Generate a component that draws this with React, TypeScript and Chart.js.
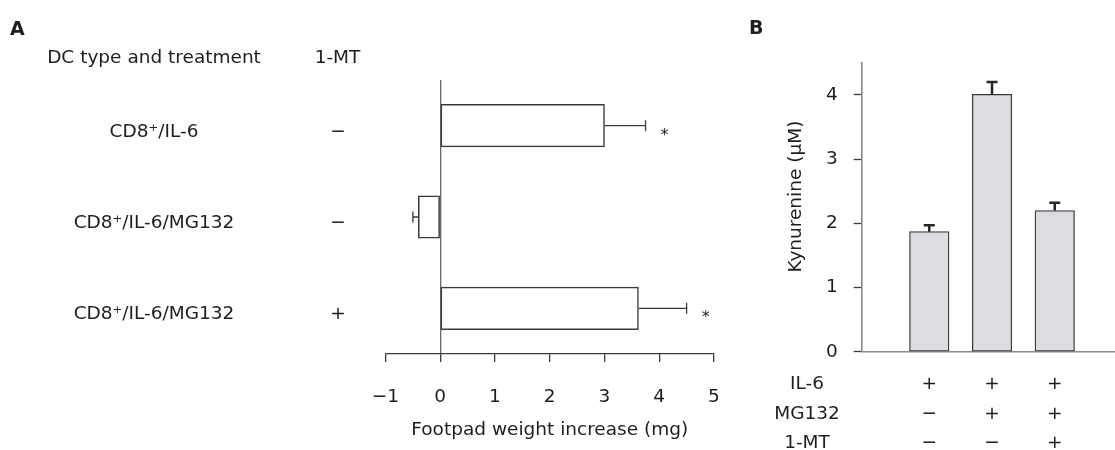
import React, { useEffect, useRef } from "react";
import { Chart, registerables } from "chart.js";

Chart.register(...registerables);

const FONT = "DejaVu Sans";
const TEXT = "#1e1e1e";

// ---------- Panel A data ----------
const dcTreatments = ["CD8⁺/IL-6", "CD8⁺/IL-6/MG132", "CD8⁺/IL-6/MG132"];
const oneMtA = ["−", "−", "+"];
const footpadIncrease = [3.0, -0.4, 3.62];
const footpadError = [0.75, 0.1, 0.88];
const footpadSignif = ["*", "", "*"];
const footpadMin = -1;
const footpadMax = 5;
const footpadStep = 1;

// ---------- Panel B data ----------
const kynPositions = [1, 2, 3];
const kynurenine = [1.87, 4.01, 2.2];
const kynError = [0.1, 0.19, 0.12];
const treatmentRowNames = ["IL-6", "MG132", "1-MT"];
const il6Row = ["+", "+", "+"];
const mg132Row = ["−", "+", "+"];
const mtRowB = ["−", "−", "+"];
const kynMin = 0;
const kynMax = 4.5;
const kynStep = 1;
const kynXMin = -0.077;
const kynXMax = 3.96;

const panelAPlugin = {
  id: "panelAExtras",
  afterDatasetsDraw(chart: any) {
    const { ctx } = chart;
    const xs = chart.scales.x;
    const ys = chart.scales.y;
    ctx.save();
    ctx.strokeStyle = "#3a3a3a";
    ctx.lineWidth = 1.3;
    footpadIncrease.forEach((v, i) => {
      const y = ys.getPixelForValue(i);
      const x0 = xs.getPixelForValue(v);
      const end = v + Math.sign(v) * footpadError[i];
      const x1 = xs.getPixelForValue(end);
      ctx.beginPath();
      ctx.moveTo(x0, y);
      ctx.lineTo(x1, y);
      ctx.moveTo(x1, y - 5.5);
      ctx.lineTo(x1, y + 5.5);
      ctx.stroke();
      if (footpadSignif[i]) {
        ctx.font = `16px "${FONT}"`;
        ctx.textAlign = "center";
        ctx.textBaseline = "alphabetic";
        ctx.fillStyle = TEXT;
        ctx.fillText(footpadSignif[i], x1 + 19, y + 14);
      }
    });
    ctx.font = `18.5px "${FONT}"`;
    ctx.fillStyle = TEXT;
    ctx.textAlign = "center";
    ctx.textBaseline = "alphabetic";
    dcTreatments.forEach((t, i) => {
      const y = ys.getPixelForValue(i) + 11;
      ctx.fillText(t, 154, y);
      ctx.fillText(oneMtA[i], 338, y);
    });
    ctx.fillText("DC type and treatment", 154, 63.3);
    ctx.fillText("1-MT", 337.5, 63.3);
    ctx.font = `bold 19px "${FONT}"`;
    ctx.textAlign = "left";
    ctx.fillText("A", 10, 35);
    ctx.restore();
  },
};

const panelBPlugin = {
  id: "panelBExtras",
  afterDatasetsDraw(chart: any) {
    const { ctx } = chart;
    const xs = chart.scales.x;
    const ys = chart.scales.y;
    ctx.save();
    ctx.strokeStyle = "#262626";
    ctx.lineWidth = 2.5;
    kynurenine.forEach((v, i) => {
      const x = xs.getPixelForValue(kynPositions[i]);
      const y0 = ys.getPixelForValue(v);
      const y1 = ys.getPixelForValue(v + kynError[i]);
      ctx.beginPath();
      ctx.moveTo(x, y0);
      ctx.lineTo(x, y1);
      ctx.moveTo(x - 5.5, y1);
      ctx.lineTo(x + 5.5, y1);
      ctx.stroke();
    });
    ctx.fillStyle = TEXT;
    ctx.font = `18.5px "${FONT}"`;
    ctx.textAlign = "center";
    ctx.textBaseline = "alphabetic";
    const rows = [il6Row, mg132Row, mtRowB];
    const baselines = [389, 419, 448];
    rows.forEach((row, r) => {
      ctx.fillText(treatmentRowNames[r], 62, baselines[r]);
      row.forEach((s, i) => {
        ctx.fillText(s, xs.getPixelForValue(kynPositions[i]), baselines[r]);
      });
    });
    // y-axis title
    ctx.save();
    ctx.translate(55.5, 196.5);
    ctx.rotate(-Math.PI / 2);
    ctx.fillText("Kynurenine (μM)", 0, 0);
    ctx.restore();
    ctx.font = `bold 19px "${FONT}"`;
    ctx.textAlign = "left";
    ctx.fillText("B", 4, 34);
    ctx.restore();
  },
};

export default function App() {
  const refA = useRef<HTMLCanvasElement>(null);
  const refB = useRef<HTMLCanvasElement>(null);

  useEffect(() => {
    const tickFont = { family: FONT, size: 18.5 };
    const chartA = new Chart(refA.current as HTMLCanvasElement, {
      type: "bar",
      data: {
        labels: dcTreatments,
        datasets: [
          {
            data: footpadIncrease,
            backgroundColor: "#ffffff",
            borderColor: "#3a3a3a",
            borderWidth: 1.5,
            borderSkipped: false,
            barThickness: 42.5,
          },
        ],
      },
      options: {
        indexAxis: "y",
        responsive: false,
        animation: false,
        layout: { padding: { left: 385.5, right: 56, top: 80, bottom: 0 } },
        plugins: { legend: { display: false }, tooltip: { enabled: false } },
        scales: {
          y: { display: false },
          x: {
            type: "linear",
            min: footpadMin,
            max: footpadMax,
            ticks: {
              stepSize: footpadStep,
              font: tickFont,
              color: TEXT,
              padding: 24,
              maxRotation: 0,
              callback: (v: any) => String(v).replace("-", "−"),
            },
            grid: {
              color: (c: any) => (c.tick && c.tick.value === 0 ? "#6a6a6a" : "rgba(0,0,0,0)"),
              lineWidth: 1.3,
              tickColor: "#3a3a3a",
              tickLength: 8,
              tickWidth: 1.3,
            },
            border: { display: true, color: "#3a3a3a", width: 1.3 },
            title: {
              display: true,
              text: "Footpad weight increase (mg)",
              font: tickFont,
              color: TEXT,
              padding: { top: 4, bottom: 9 },
            },
            afterFit: (s: any) => {
              s.height = 96;
            },
          },
        },
      } as any,
      plugins: [panelAPlugin],
    });

    const chartB = new Chart(refB.current as HTMLCanvasElement, {
      type: "bar",
      data: {
        datasets: [
          {
            data: kynPositions.map((x, i) => ({ x, y: kynurenine[i] })),
            backgroundColor: "#dcdde0",
            borderColor: "#3a3a3a",
            borderWidth: 1.3,
            borderSkipped: false,
            barThickness: 39.5,
          },
        ],
      },
      options: {
        responsive: false,
        animation: false,
        layout: { padding: { left: 0, right: 0, top: 62.8, bottom: 0 } },
        plugins: { legend: { display: false }, tooltip: { enabled: false } },
        scales: {
          x: {
            type: "linear",
            min: kynXMin,
            max: kynXMax,
            offset: false,
            ticks: { display: false, stepSize: 1, includeBounds: false },
            grid: { color: "rgba(0,0,0,0)", drawTicks: false, offset: false },
            border: { display: true, color: "#8a8a8a", width: 1.6 },
            afterFit: (s: any) => {
              s.height = 98.3;
            },
          },
          y: {
            type: "linear",
            min: kynMin,
            max: kynMax,
            ticks: {
              stepSize: kynStep,
              includeBounds: false,
              font: tickFont,
              color: TEXT,
              padding: 16,
            },
            grid: {
              drawOnChartArea: false,
              tickLength: 8,
              tickColor: "#3a3a3a",
              tickWidth: 1.3,
            },
            border: { display: true, color: "#8a8a8a", width: 1.6 },
            afterFit: (s: any) => {
              s.width = 116.7;
            },
          },
        },
      } as any,
      plugins: [panelBPlugin],
    });

    return () => {
      chartA.destroy();
      chartB.destroy();
    };
  }, []);

  return (
    <div style={{ position: "absolute", left: 0, top: 0, width: 1115, height: 450, background: "#ffffff" }}>
      <canvas ref={refA} width={770} height={450} style={{ position: "absolute", left: 0, top: 0 }} />
      <canvas ref={refB} width={370} height={450} style={{ position: "absolute", left: 745, top: 0 }} />
    </div>
  );
}
